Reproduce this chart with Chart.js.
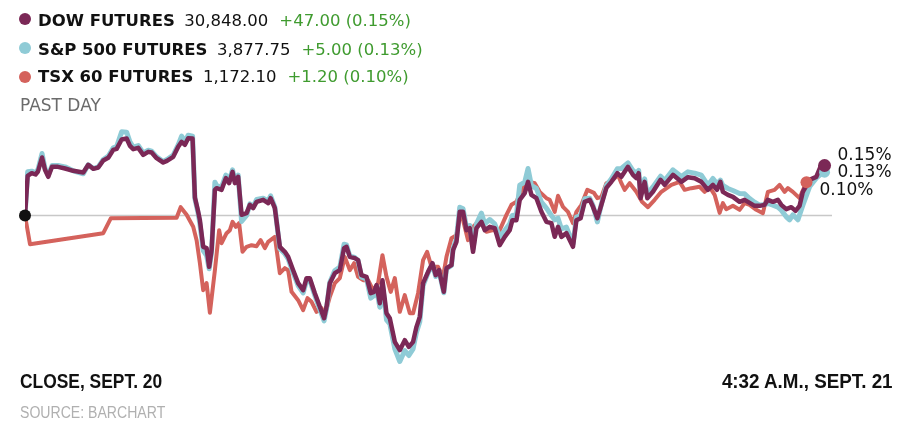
<!DOCTYPE html>
<html>
<head>
<meta charset="utf-8">
<script src="https://cdn.jsdelivr.net/npm/chart.js@4/dist/chart.umd.min.js"></script>
<style>
  html, body { margin: 0; padding: 0; background: #fff; }
  #wrap { position: relative; width: 923px; height: 431px; overflow: hidden; }
  canvas { position: absolute; left: 0; top: 0; }
  .row { position: absolute; left: 38px; font-family: "DejaVu Sans", sans-serif; font-size: 16.5px; line-height: 16.5px; white-space: nowrap; color: #111; }
  .row b { font-weight: bold; }
  .row .num { margin-left: 9.5px; }
  .row .chg { margin-left: 11px; color: #3f9b2f; }
  .dot { position: absolute; width: 12px; height: 12px; border-radius: 50%; left: 19px; }
  #past { position: absolute; left: 20px; top: 97.3px; font-family: "DejaVu Sans", sans-serif; font-size: 17px; line-height: 17px; color: #6b6b6b; }
  .foot { position: absolute; font-family: "Liberation Sans", sans-serif; white-space: nowrap; }
  #startLbl { left: 20px; top: 371px; font-size: 20px; line-height: 20px; font-weight: bold; color: #111; transform: scaleX(0.87); transform-origin: 0 0; }
  #endLbl { right: 30px; top: 371px; font-size: 20px; line-height: 20px; font-weight: bold; color: #111; transform: scaleX(0.94); transform-origin: 100% 0; }
  #source { left: 20px; top: 405px; font-size: 16px; line-height: 16px; color: #b0b0b0; transform: scaleX(0.88); transform-origin: 0 0; }
</style>
</head>
<body>
<div id="wrap">
  <canvas id="c" width="923" height="431"></canvas>
  <div id="past">PAST DAY</div>
  <div class="foot" id="startLbl">CLOSE, SEPT. 20</div>
  <div class="foot" id="endLbl">4:32 A.M., SEPT. 21</div>
  <div class="foot" id="source">SOURCE: BARCHART</div>
</div>
<script>
// ---- Data (x = minutes after the Sept. 20 close, y = % change) ----
const seriesNames = ["DOW FUTURES", "S&P 500 FUTURES", "TSX 60 FUTURES"];
const lastPrices  = ["30,848.00", "3,877.75", "1,172.10"];
const netChanges  = ["+47.00", "+5.00", "+1.20"];
const pctChanges  = [0.15, 0.13, 0.10];
const seriesColors = ["#7b2856", "#8fcbd6", "#d4625c"];

const sharedTimes = [
  0,2.5,6.3,9.9,12.2,16,18.8,21.9,25.4,31,
  37.6,45.4,54.8,59.5,64.2,68.9,73.6,78.3,83,86.2,
  90.9,95.6,98.7,101.8,106.5,111.2,115.9,119.1,123.8,130,
  133.5,139.4,144.1,147.3,150.4,153.5,157.6,159.8,162.9,164.5,
  167.6,170.8,173.2,175.5,178.6,180.2,184.9,188.9,192,195.2,
  197.4,200.5,203.7,208.4,211.5,214.6,217.8,224,228.7,231,
  235,239.7,244.4,247.5,252.2,256.9,261.6,264.8,267.9,272.6,
  277.3,281.3,283.6,286.7,291.4,296.1,300.1,302.4,305.5,310.2,
  313.3,316.5,321.2,325.2,328.3,330.6,333.7,336.2,340,343.1,
  347.8,352.5,357.2,361,365,368.2,371.3,374.4,379.1,383.2,
  386.3,389.4,393.9,396.4,401.1,402.6,405.8,408.9,412,415.2,
  418.3,421.4,424.6,429.3,432.4,437.1,441.8,446.5,451.2,455.9,
  458.4,462.2,465.3,470,473.1,476.3,481,485.7,490.4,495.1,
  498.2,501.3,504.5,509.2,515.4,518.6,522.6,526.4,531.1,534.2,
  538.3,542.1,546.8,551.5,557.1,560.9,567.1,571.8,575,577.2,
  579,582.8,585.3,590.6,597.8,601.6,609.4,617.3,623.5,629.8,
  636.1,642.3,647,650.8,654,656.4,661.1,665.8,672.1,676.8,
  681.5,686.2,690.9,695.6,698.7,703.4,708.1,711.3
];
const dowTailTimes = [716,720.7,724.7,728.5,731.6,737.9,744.2,748.9,752];
const spxTailTimes = [716,719.1,722.2,726.9,731.6,737.9,744.2,748.9,752];

const dowValues = [
  0,0.119,0.127,0.123,0.132,0.174,0.137,0.116,0.146,0.146,
  0.141,0.134,0.129,0.152,0.140,0.144,0.165,0.173,0.197,0.200,
  0.228,0.231,0.209,0.199,0.203,0.182,0.191,0.189,0.172,0.159,
  0.164,0.176,0.206,0.221,0.212,0.232,0.231,0.054,0.011,-0.014,
  -0.094,-0.098,-0.154,-0.104,0.077,0.082,0.077,0.112,0.097,0.131,
  0.097,0.116,0.002,0.007,0.032,0.022,0.041,0.047,0.037,0.052,
  0.022,-0.094,-0.109,-0.124,-0.164,-0.203,-0.224,-0.188,-0.188,-0.233,
  -0.274,-0.308,-0.274,-0.203,-0.173,-0.164,-0.098,-0.094,-0.124,-0.128,
  -0.134,-0.179,-0.184,-0.233,-0.229,-0.209,-0.263,-0.194,-0.293,-0.308,
  -0.379,-0.404,-0.374,-0.394,-0.379,-0.334,-0.304,-0.203,-0.169,-0.143,
  -0.179,-0.164,-0.229,-0.158,-0.149,-0.104,-0.079,0.011,0.011,-0.044,
  -0.038,-0.109,-0.038,-0.019,-0.044,-0.034,-0.038,-0.089,-0.064,-0.044,
  -0.014,-0.014,0.047,0.067,0.101,0.062,0.052,0.011,-0.019,-0.023,
  -0.064,-0.034,-0.064,-0.053,-0.094,-0.014,-0.008,0.041,0.047,0.026,
  -0.008,0.032,0.083,0.101,0.127,0.116,0.146,0.122,0.112,0.127,
  0.052,0.101,0.052,0.071,0.107,0.092,0.122,0.101,0.115,0.112,
  0.101,0.077,0.092,0.077,0.101,0.071,0.062,0.056,0.041,0.047,
  0.038,0.029,0.029,0.032,0.047,0.041,0.047,0.032,
  0.019,0.025,0.014,0.029,0.071,0.107,0.116,0.152,0.150
];
const spxValues = [
  0,0.131,0.133,0.128,0.138,0.186,0.142,0.120,0.150,0.150,
  0.146,0.134,0.125,0.152,0.141,0.146,0.168,0.178,0.203,0.207,
  0.251,0.250,0.221,0.205,0.210,0.188,0.196,0.193,0.176,0.162,
  0.168,0.181,0.212,0.238,0.222,0.241,0.238,0.050,0.005,-0.025,
  -0.105,-0.120,-0.160,-0.110,0.100,0.090,0.085,0.121,0.105,0.137,
  0.105,0.121,-0.018,0.000,0.035,0.027,0.048,0.052,0.043,0.059,
  0.025,-0.100,-0.115,-0.130,-0.172,-0.210,-0.232,-0.195,-0.194,-0.240,
  -0.282,-0.316,-0.280,-0.200,-0.165,-0.155,-0.086,-0.088,-0.122,-0.126,
  -0.135,-0.185,-0.190,-0.248,-0.240,-0.220,-0.275,-0.205,-0.313,-0.325,
  -0.400,-0.438,-0.405,-0.420,-0.400,-0.350,-0.319,-0.210,-0.172,-0.147,
  -0.183,-0.167,-0.232,-0.160,-0.150,-0.100,-0.070,0.025,0.020,-0.035,
  -0.030,-0.100,-0.025,0.007,-0.025,-0.012,-0.025,-0.064,-0.045,-0.025,
  0.000,0.002,0.091,0.100,0.141,0.090,0.081,0.040,0.022,0.000,
  -0.013,-0.008,-0.040,-0.035,-0.085,-0.005,0.000,0.050,0.052,0.030,
  -0.019,0.035,0.090,0.110,0.140,0.141,0.158,0.135,0.127,0.135,
  0.062,0.110,0.065,0.086,0.118,0.105,0.137,0.117,0.131,0.127,
  0.121,0.091,0.111,0.095,0.106,0.090,0.081,0.075,0.066,0.065,
  0.051,0.040,0.031,0.033,0.036,0.031,0.025,0.016,
  -0.004,-0.013,0.002,-0.013,0.031,0.086,0.112,0.125,0.130
];
const tsxTimes = [
  0,4.7,73.6,80.8,142.6,146.4,152,158.2,161.4,164.5,
  167.6,170.8,173.9,178.6,182.6,184.9,189.6,192.7,195.2,198.3,
  201.4,204.6,208.4,213.1,217.8,221.6,225.6,228.7,235,239.7,
  244.4,247.5,250.7,256.9,261.6,265.7,269.5,274.2,278.9,282,
  286.7,291.4,296.1,300.8,305.5,309.5,313.3,318,322.7,327.4,
  332.1,336.2,340,344,347.8,352.5,357.2,361.9,365,369.7,
  374.4,378.2,382.3,388.5,393.2,396.4,401.1,405.8,408.9,412,
  416.7,421.4,427.7,434,440.2,446.5,452.8,457.5,462.2,468.4,
  474.7,479.4,484.1,490.4,493.5,498.2,501.3,506,510.7,515.4,
  518.6,523.3,528.9,535.1,538.3,542.1,546.8,553,557.7,560.9,
  564,568.7,575,580.3,585.9,592.2,598.5,607.9,615.7,620.4,
  626.7,634.5,639.2,643.9,648.6,653.3,656.4,659.6,665.8,672.1,
  676.8,681.5,687.8,694,698.7,705,709.7,714.4,717.5,722.2,
  728.5,735
];
const tsxValues = [
  0,-0.086,-0.053,-0.008,-0.007,0.025,0.002,-0.034,-0.074,-0.143,
  -0.224,-0.203,-0.292,-0.164,-0.044,-0.083,-0.053,-0.044,-0.019,-0.034,
  -0.023,-0.109,-0.094,-0.089,-0.092,-0.074,-0.098,-0.079,-0.064,-0.173,
  -0.158,-0.164,-0.229,-0.254,-0.284,-0.248,-0.259,-0.289,-0.278,-0.299,
  -0.244,-0.203,-0.188,-0.124,-0.164,-0.143,-0.184,-0.194,-0.194,-0.224,
  -0.203,-0.119,-0.184,-0.229,-0.188,-0.289,-0.239,-0.293,-0.293,-0.233,
  -0.134,-0.109,-0.154,-0.154,-0.184,-0.124,-0.068,-0.059,0.002,-0.014,
  -0.074,-0.034,-0.014,-0.049,-0.044,-0.044,0.002,0.032,0.041,0.086,
  0.101,0.097,0.071,0.052,0.047,0.011,0.059,0.026,0.011,-0.023,
  0.011,0.032,0.077,0.068,0.052,0.056,0.097,0.107,0.122,0.097,
  0.077,0.097,0.071,0.041,0.025,0.047,0.071,0.092,0.101,0.077,
  0.082,0.086,0.071,0.086,0.062,0.008,0.037,0.019,0.029,0.017,
  0.037,0.032,0.017,0.007,0.071,0.077,0.092,0.071,0.082,0.071,
  0.052,0.100
];

const dowTimes = sharedTimes.concat(dowTailTimes);
const spxTimes = sharedTimes.concat(spxTailTimes);
function zip(t, v) { return t.map((x, i) => ({ x: x, y: v[i] })); }

// ---- Header legend built from the data arrays ----
const rowTops = [12.7, 41.7, 69.3];
const dotTops = [12.5, 41.5, 70.5];
const wrap = document.getElementById('wrap');
seriesNames.forEach((name, i) => {
  const d = document.createElement('div');
  d.className = 'dot';
  d.style.top = dotTops[i] + 'px';
  d.style.background = seriesColors[i];
  wrap.appendChild(d);
  const r = document.createElement('div');
  r.className = 'row';
  r.style.top = rowTops[i] + 'px';
  const b = document.createElement('b'); b.textContent = name;
  const n = document.createElement('span'); n.className = 'num'; n.textContent = lastPrices[i];
  const c = document.createElement('span'); c.className = 'chg';
  c.textContent = netChanges[i] + ' (' + pctChanges[i].toFixed(2) + '%)';
  r.appendChild(b); r.appendChild(n); r.appendChild(c);
  wrap.appendChild(r);
});

// ---- Plugins ----
const zeroLine = {
  id: 'zeroLine',
  beforeDatasetsDraw(chart) {
    const { ctx, chartArea, scales } = chart;
    const y = scales.y.getPixelForValue(0);
    ctx.save();
    ctx.strokeStyle = '#c8c8c8';
    ctx.lineWidth = 1.5;
    ctx.beginPath();
    ctx.moveTo(chartArea.left, y);
    ctx.lineTo(chartArea.right, y);
    ctx.stroke();
    ctx.restore();
  }
};
const labelOffsets = [-10, 0, 8.5];
const dotRadii = [6.5, 5.5, 6];
const endMarks = {
  id: 'endMarks',
  afterDatasetsDraw(chart) {
    const ctx = chart.ctx;
    ctx.save();
    for (let i = chart.data.datasets.length - 1; i >= 0; i--) {
      const meta = chart.getDatasetMeta(i);
      const pt = meta.data[meta.data.length - 1];
      ctx.fillStyle = seriesColors[i];
      ctx.beginPath();
      ctx.arc(pt.x, pt.y, dotRadii[i], 0, Math.PI * 2);
      ctx.fill();
    }
    const m0 = chart.getDatasetMeta(0);
    const p0 = m0.data[0];
    ctx.fillStyle = '#111';
    ctx.beginPath();
    ctx.arc(p0.x, p0.y, 6, 0, Math.PI * 2);
    ctx.fill();
    ctx.font = '17px "DejaVu Sans", sans-serif';
    ctx.fillStyle = '#111';
    ctx.textBaseline = 'middle';
    ctx.textAlign = 'left';
    chart.data.datasets.forEach((ds, i) => {
      const meta = chart.getDatasetMeta(i);
      const pt = meta.data[meta.data.length - 1];
      const v = ds.data[ds.data.length - 1].y;
      ctx.fillText(v.toFixed(2) + '%', pt.x + 13, pt.y + labelOffsets[i]);
    });
    ctx.restore();
  }
};

new Chart(document.getElementById('c'), {
  type: 'line',
  data: {
    datasets: [
      { label: seriesNames[0], data: zip(dowTimes, dowValues), borderColor: seriesColors[0], borderWidth: 4.5 },
      { label: seriesNames[1], data: zip(spxTimes, spxValues), borderColor: seriesColors[1], borderWidth: 5 },
      { label: seriesNames[2], data: zip(tsxTimes, tsxValues), borderColor: seriesColors[2], borderWidth: 4 }
    ]
  },
  options: {
    responsive: false,
    animation: false,
    events: [],
    layout: { padding: { left: 25, right: 91, top: 115.5, bottom: 65.5 } },
    elements: {
      point: { radius: 0, hoverRadius: 0 },
      line: { tension: 0, fill: false, borderJoinStyle: 'round', borderCapStyle: 'round' }
    },
    scales: {
      x: { type: 'linear', min: 0, max: 759, display: false },
      y: { type: 'linear', min: -0.45, max: 0.30, display: false }
    },
    plugins: { legend: { display: false }, tooltip: { enabled: false } }
  },
  plugins: [zeroLine, endMarks]
});
</script>
</body>
</html>
